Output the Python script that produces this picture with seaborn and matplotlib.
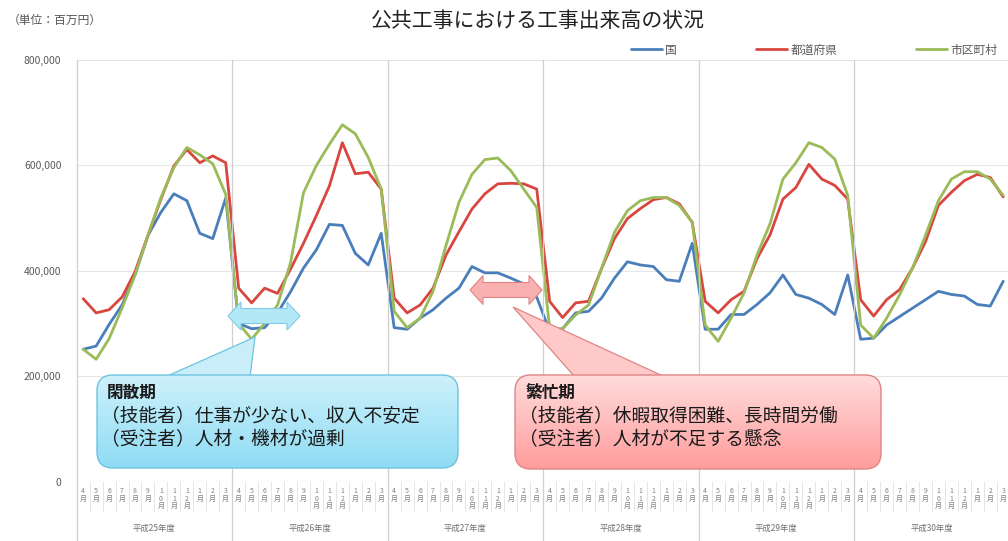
import numpy as np
import pandas as pd
import seaborn as sns
import matplotlib.pyplot as plt
import matplotlib.transforms as mtransforms
from matplotlib.patches import FancyBboxPatch, Polygon
from matplotlib.lines import Line2D
from matplotlib.colors import to_rgb

sns.set_theme(style="white")
plt.rcParams['font.family'] = ['Noto Sans CJK JP', 'DejaVu Sans']

## data (百万円), in thousands
years = ["平成25年度", "平成26年度", "平成27年度", "平成28年度", "平成29年度", "平成30年度"]
months = [4, 5, 6, 7, 8, 9, 10, 11, 12, 1, 2, 3]
series_names = ["国", "都道府県", "市区町村"]

kuni = [251, 257, 298, 335, 392, 467, 511, 546, 533, 471, 461, 538,
        300, 290, 292, 320, 360, 405, 440, 488, 486, 433, 411, 471,
        292, 289, 310, 326, 348, 367, 408, 396, 396, 386, 375, 350,
        285, 290, 320, 323, 348, 386, 417, 411, 408, 383, 380, 452,
        289, 289, 317, 317, 336, 358, 392, 355, 348, 336, 317, 392,
        270, 272, 297, 313, 329, 345, 361, 355, 352, 336, 333, 380]
todofuken = [347, 320, 326, 350, 398, 467, 536, 599, 630, 605, 618, 605,
             367, 339, 367, 357, 403, 452, 505, 561, 643, 584, 587, 555,
             348, 320, 335, 367, 430, 474, 517, 546, 565, 566, 565, 555,
             342, 311, 339, 342, 404, 461, 499, 518, 535, 539, 527, 492,
             342, 320, 345, 361, 423, 468, 536, 558, 602, 574, 562, 536,
             345, 314, 345, 364, 405, 455, 524, 549, 571, 583, 577, 540]
shikuchoson = [251, 232, 271, 329, 392, 467, 539, 596, 634, 620, 603, 545,
               300, 270, 300, 335, 415, 548, 600, 640, 677, 660, 615, 555,
               323, 292, 310, 361, 448, 530, 583, 611, 614, 590, 555, 520,
               290, 290, 316, 335, 404, 473, 514, 533, 539, 539, 524, 492,
               297, 266, 310, 358, 430, 489, 574, 605, 643, 634, 612, 543,
               297, 272, 310, 354, 405, 467, 533, 574, 588, 588, 574, 543]

colors = ["#4a7ebb", "#d9463f", "#9bbb59"]

n = len(kuni)
df = pd.DataFrame({
    "idx": np.tile(np.arange(n), 3),
    "value": np.concatenate([kuni, todofuken, shikuchoson]) * 1000,
    "kubun": np.repeat(series_names, n),
})

W, H = 1008, 541
fig = plt.figure(figsize=(W / 100, H / 100), dpi=100)
ax = fig.add_axes([76.7 / W, 59.5 / H, 933 / W, 421.5 / H])

sns.lineplot(data=df, x="idx", y="value", hue="kubun", hue_order=series_names,
             palette=dict(zip(series_names, colors)), linewidth=2.0, ax=ax, legend=False)

ax.set_xlim(-0.5, n - 0.5)
ax.set_ylim(0, 800000)
ax.set_yticks(range(0, 800001, 200000))
ax.set_yticklabels([f"{v:,}" for v in range(0, 800001, 200000)])
ax.yaxis.grid(True, color="#e6e6e6", lw=0.8)
ax.xaxis.grid(False)
for s in ax.spines.values():
    s.set_visible(False)
ax.set_xlabel("")
ax.set_ylabel("")
ax.tick_params(axis="y", length=0, pad=11, labelsize=7.5, labelcolor="#595959")

## stacked month labels
mlabels = ["\n".join(f"{m}月") for _ in years for m in months]
ax.set_xticks(range(n))
ax.set_xticklabels(mlabels, fontsize=5, color="#808080", linespacing=0.95)
ax.tick_params(axis="x", length=0, pad=4)

trans = mtransforms.blended_transform_factory(ax.transData, ax.transAxes)
ax.axhline(0, color="#d9d9d9", lw=0.8)
for b in np.arange(-0.5, n, 1):
    ax.add_line(Line2D([b, b], [0, -0.07], transform=trans, color="#e0e0e0", lw=0.6, clip_on=False))
for k in range(len(years) + 1):
    b = k * 12 - 0.5
    ax.add_line(Line2D([b, b], [1, -0.141], transform=trans, color="#cfcfcf", lw=0.9, clip_on=False))
for k, yl in enumerate(years):
    ax.text(k * 12 + 5.5, -0.11, yl, transform=trans, ha="center", va="center",
            fontsize=6, color="#707070")

## legend
handles = [Line2D([], [], color=c, lw=2.0) for c in colors]
fig.legend(handles, series_names, loc="center left", bbox_to_anchor=(631 / W, 1 - 50 / H),
           ncol=3, frameon=False, fontsize=8.5, handlelength=2.6, handletextpad=0.3,
           columnspacing=6.7, borderpad=0, borderaxespad=0, labelcolor="#595959")

## overlay in pixel coords
ov = fig.add_axes([0, 0, 1, 1], zorder=5)
ov.patch.set_alpha(0)
ov.axis("off")

ov.text(538, 21, "公共工事における工事出来高の状況", ha="center", va="center",
        fontsize=15, color="#222222")
ov.text(8, 20, "（単位：百万円）", ha="left", va="center", fontsize=8.5, color="#555555")


def callout(x0, y0, x1, y1, ctop, cbot, edge, wedge, wcol, lines):
    ov.add_patch(Polygon(wedge, closed=True, facecolor=wcol, edgecolor=edge, lw=0.9, zorder=2))
    box = FancyBboxPatch((x0, y0), x1 - x0, y1 - y0, boxstyle="round,pad=0,rounding_size=16",
                         facecolor="none", edgecolor=edge, lw=1.0, zorder=4)
    ov.add_patch(box)
    t, b = np.array(to_rgb(ctop)), np.array(to_rgb(cbot))
    f = np.linspace(0, 1, 100)[:, None, None]
    grad = t * (1 - f) + b * f
    im = ov.imshow(grad, extent=(x0, x1, y1, y0), origin="upper", aspect="auto", zorder=3)
    im.set_clip_path(box)
    ov.text(x0 + 10, y0 + 18, lines[0], fontsize=12, fontweight="bold", color="#1a1a1a",
            va="center", zorder=5)
    ov.text(x0 + 4, y0 + 41, lines[1], fontsize=13.5, color="#1a1a1a", va="center", zorder=5)
    ov.text(x0 + 4, y0 + 65, lines[2], fontsize=13.5, color="#1a1a1a", va="center", zorder=5)


def double_arrow(x0, x1, yc, h, shaft, head, fc, ec):
    pts = [(x0, yc), (x0 + head, yc - h / 2), (x0 + head, yc - shaft / 2),
           (x1 - head, yc - shaft / 2), (x1 - head, yc - h / 2), (x1, yc),
           (x1 - head, yc + h / 2), (x1 - head, yc + shaft / 2),
           (x0 + head, yc + shaft / 2), (x0 + head, yc + h / 2)]
    ov.add_patch(Polygon(pts, closed=True, facecolor=fc, edgecolor=ec, lw=0.8, zorder=6))


callout(97, 375, 458, 468, "#cdf1fb", "#8fdcf4", "#6fc3df",
        [(165, 377), (255, 337), (250, 377)], "#c9eef9",
        ["閑散期", "（技能者）仕事が少ない、収入不安定", "（受注者）人材・機材が過剰"])
callout(515, 375, 881, 469, "#ffdcdc", "#ff9c9c", "#dd8585",
        [(575, 377), (513, 307), (665, 377)], "#ffc9c9",
        ["繁忙期", "（技能者）休暇取得困難、長時間労働", "（受注者）人材が不足する懸念"])

double_arrow(228, 300, 316, 28, 15, 13, "#b3e8f7", "#7fcbe6")
double_arrow(470, 542, 290, 29, 15, 13, "#f9b0b0", "#e08282")

ov.set_xlim(0, W)
ov.set_ylim(H, 0)

fig.savefig("out.png", dpi=100)
